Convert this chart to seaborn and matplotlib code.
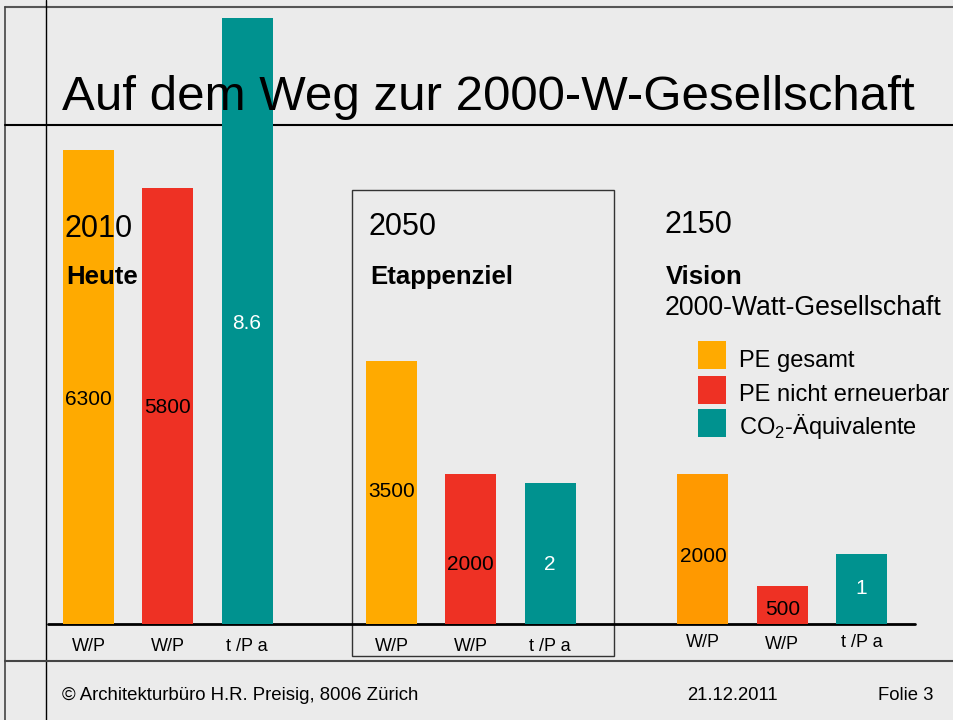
import matplotlib
matplotlib.use("Agg")
import pandas as pd
import matplotlib.pyplot as plt
from matplotlib.patches import Rectangle
import seaborn as sns

# %%
# Data
years = ["2010", "2050", "2150"]
stages = ["Heute", "Etappenziel", "Vision"]
pe_total = [6300, 3500, 2000]        # W/P
pe_nonrenew = [5800, 2000, 500]      # W/P
co2_eq = [8.6, 2, 1]                 # t /P a
unit_labels = ["W/P", "W/P", "t /P a"]
series_labels = ["PE gesamt", "PE nicht erneuerbar",
                 "CO$_\\mathregular{2}$-Äquivalente"]

title = "Auf dem Weg zur 2000-W-Gesellschaft"
footer_left = "© Architekturbüro H.R. Preisig, 8006 Zürich"
footer_date = "21.12.2011"
footer_page = "Folie 3"

# %%
sns.set_theme(style="white")
plt.rcParams["font.family"] = ["Liberation Sans", "DejaVu Sans"]
plt.rcParams["mathtext.fontset"] = "custom"
plt.rcParams["mathtext.rm"] = "Liberation Sans"
plt.rcParams["text.color"] = "black"

BG = "#EBEBEB"
ORANGE = "#FFAA00"
ORANGE_2150 = "#FF9900"
RED = "#EE3124"
TEAL = "#00928F"

W, H = 954, 720
BASE = 624            # pixel row of the bar baseline
group_x = [88.5, 391.5, 703]   # centre of first bar in each group (px)
step = 79.3
bar_px = 51

fig = plt.figure(figsize=(W / 100, H / 100), dpi=100, facecolor=BG)

# background layer: slide rules and box
bg = fig.add_axes([0, 0, 1, 1])
bg.set_xlim(0, W)
bg.set_ylim(H, 0)
bg.axis("off")
bg.plot([5, W], [7, 7], color="#555555", lw=1.5)
bg.plot([5, 5], [7, H], color="#444444", lw=1.2)
bg.plot([46, 46], [0, H], color="black", lw=1)
bg.plot([5, W], [125, 125], color="black", lw=1.5)
bg.plot([5, W], [661, 661], color="#444444", lw=1.5)
bg.add_patch(Rectangle((352, 190), 262, 466, fill=False,
                       edgecolor="#333333", lw=1))
bg.plot([48, 915], [BASE, BASE], color="black", lw=2)

# %%
# bars: energy on the left scale, CO2 on a twin scale
rows = []
for g, yr in enumerate(years):
    x0 = group_x[g]
    rows.append(dict(pos=x0, value=pe_total[g], key=f"tot{g}", kind="energy"))
    rows.append(dict(pos=x0 + step, value=pe_nonrenew[g], key=f"nre{g}", kind="energy"))
    rows.append(dict(pos=x0 + 2 * step, value=co2_eq[g], key=f"co2{g}", kind="co2"))
df = pd.DataFrame(rows)

palette = {}
for g in range(len(years)):
    palette[f"tot{g}"] = ORANGE_2150 if g == 2 else ORANGE
    palette[f"nre{g}"] = RED
    palette[f"co2{g}"] = TEAL

ax = fig.add_axes([0, 1 - BASE / H, 1, BASE / H])
ax.patch.set_alpha(0)
ax2 = ax.twinx()

for axis, kind in [(ax, "energy"), (ax2, "co2")]:
    sub = df[df["kind"] == kind]
    spacing = sub["pos"].sort_values().diff().min()
    sns.barplot(data=sub, x="pos", y="value", hue="key", palette=palette,
                native_scale=True, width=bar_px / spacing, dodge=False,
                saturation=1, linewidth=0, errorbar=None, legend=False,
                ax=axis)
    axis.axis("off")

ax.set_xlim(0, W)
ax.set_ylim(0, BASE / 0.0752)
ax2.set_ylim(0, BASE / 70.5)

# %%
# text layer on top
fg = fig.add_axes([0, 0, 1, 1])
fg.set_xlim(0, W)
fg.set_ylim(H, 0)
fg.axis("off")
fg.patch.set_alpha(0)

fg.text(62, 110, title, fontsize=35.5, va="baseline", ha="left")

year_base = [237, 235, 233]
year_x = [65, 369, 665]
for g in range(3):
    fg.text(year_x[g], year_base[g], years[g], fontsize=22, va="baseline")
    fg.text(year_x[g] + 1, 284, stages[g], fontsize=18.5,
            fontweight="bold", va="baseline")
fg.text(665, 315, "2000-Watt-Gesellschaft", fontsize=19.2, va="baseline")

# value labels
val_base = [[405, 413, 329], [497, 570, 570], [562, 615, 594]]
for g in range(3):
    vals = [pe_total[g], pe_nonrenew[g], co2_eq[g]]
    for i, v in enumerate(vals):
        txt = f"{v:g}"
        fg.text(group_x[g] + i * step, val_base[g][i], txt, fontsize=15,
                ha="center", va="baseline",
                color="white" if i == 2 else "black")

# unit labels under bars
unit_base = [651, 651, 647]
for g in range(3):
    for i in range(3):
        fg.text(group_x[g] + i * step, unit_base[g] + (2 if (g == 2 and i == 1) else 0),
                unit_labels[i], fontsize=13, ha="center", va="baseline")

# legend
leg_colors = [ORANGE, RED, TEAL]
leg_top = [341, 376, 409]
leg_base = [367, 401, 434]
for i in range(3):
    fg.add_patch(Rectangle((698, leg_top[i]), 28, 28, color=leg_colors[i], lw=0))
    fg.text(739, leg_base[i], series_labels[i], fontsize=17, va="baseline")

# footer
fg.text(62, 700, footer_left, fontsize=13.4, va="baseline")
fg.text(687, 700, footer_date, fontsize=13.3, va="baseline")
fg.text(878, 700, footer_page, fontsize=13.3, va="baseline")

fig.savefig("out.png", dpi=100, facecolor=BG)
